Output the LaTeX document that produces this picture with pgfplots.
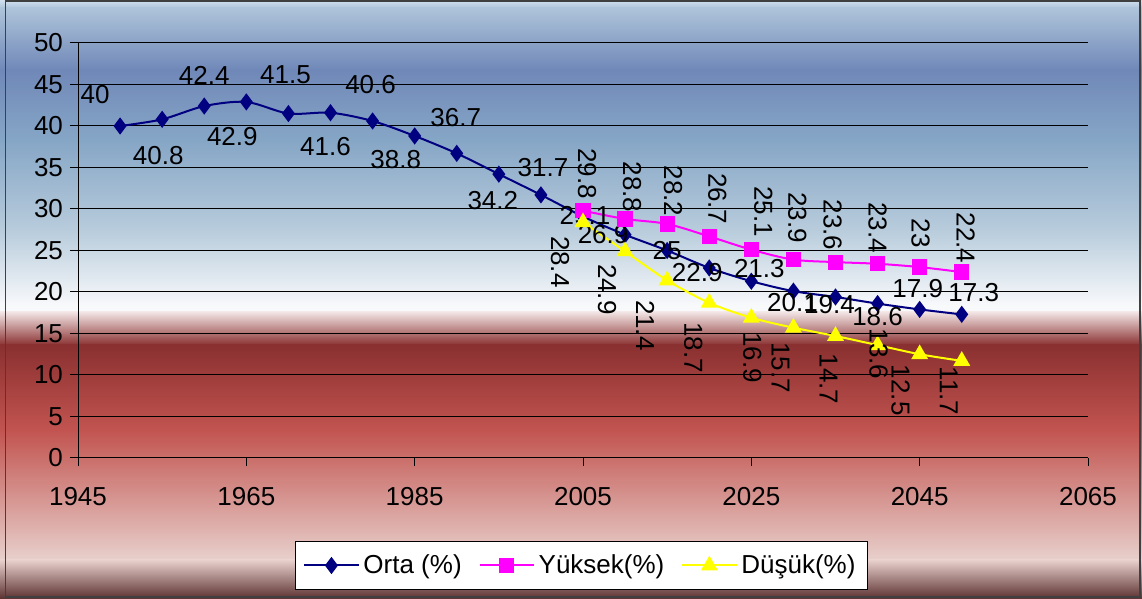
\documentclass[border=0pt]{standalone}
\usepackage{pgfplots}
\pgfplotsset{compat=1.18}
\usepackage{pgfplotstable}
\usepackage{fontspec}
\setmainfont{Liberation Sans}

\definecolor{ortac}{RGB}{0,0,128}
\definecolor{yukc}{RGB}{255,0,255}
\definecolor{dusc}{RGB}{255,255,0}

\pgfplotstableread{
x y lab dx dy
1950 40 40 -12.5 15.5
1955 40.8 40.8 -2 -18
1960 42.4 42.4 0 15.5
1965 42.9 42.9 -7 -17.5
1970 41.5 41.5 -1.5 19.5
1975 41.6 41.6 -2.5 -17
1980 40.6 40.6 -1 18
1985 38.8 38.8 -9.5 -12
1990 36.7 36.7 -0.5 18
1995 34.2 34.2 -3 -13
2000 31.7 31.7 1 13.5
2005 29.1 29.1 1 0.5
2010 26.9 26.9 -11 0
2015 25 25 0 0
2020 22.9 22.9 -6 -2.5
2025 21.3 21.3 4 6.5
2030 20.1 20.1 -0.5 -5.5
2035 19.4 19.4 -3 -4
2040 18.6 18.6 0 -6.5
2045 17.9 17.9 -1 10.5
2050 17.3 17.3 6 11
}\orta

\pgfplotstableread{
x y lab dx dy
2005 29.8 29.8 2 18.5
2010 28.8 28.8 3.5 16
2015 28.2 28.2 3 16.5
2020 26.7 26.7 4 19
2025 25.1 25.1 6 19
2030 23.9 23.9 2 21
2035 23.6 23.6 -1.5 18.5
2040 23.4 23.4 0 18
2045 23 23 0.5 17
2050 22.4 22.4 2 17
}\yuksek

\pgfplotstableread{
x y lab dx dy
2005 28.4 28.4 -11.5 -20
2010 24.9 24.9 -9 -19
2015 21.4 21.4 -11 -22.5
2020 18.7 18.7 -8 -22.5
2025 16.9 16.9 0.5 -20
2030 15.7 15.7 -6.5 -20
2035 14.7 14.7 -3.5 -21.5
2040 13.6 13.6 0.5 -4.5
2045 12.5 12.5 -9.5 -18
2050 11.7 11.7 -6.5 -15
}\dusuk

\newcommand{\bgseg}[4]{\shade[top color=#3,bottom color=#4] (0,#2) rectangle (571pt,#1);}
\newcommand{\cf}{\fontsize{13}{15}\selectfont}

\begin{document}
\begin{tikzpicture}
\useasboundingbox (0,0) rectangle (571pt,299.5pt);
\definecolor{c0}{HTML}{D0E0EE}
\definecolor{c1}{HTML}{AEC4DA}
\definecolor{c2}{HTML}{7088B8}
\definecolor{c3}{HTML}{86A6C6}
\definecolor{c4}{HTML}{B8CCDC}
\definecolor{c5}{HTML}{F8F9FB}
\definecolor{c6}{HTML}{F2E4E4}
\definecolor{c7}{HTML}{8A3030}
\definecolor{c8}{HTML}{C25450}
\definecolor{c9}{HTML}{E8D0CC}
\definecolor{c10}{HTML}{5A3030}
\bgseg{299.5pt}{295.3pt}{c0}{c1}
\bgseg{295.5pt}{264.3pt}{c1}{c2}
\bgseg{264.5pt}{229.3pt}{c2}{c3}
\bgseg{229.5pt}{184.3pt}{c3}{c4}
\bgseg{184.5pt}{146.8pt}{c4}{c5}
\fill[c5] (0,143.3pt) rectangle (571pt,147pt);
\bgseg{143.5pt}{126.8pt}{c6}{c7}
\bgseg{127pt}{84.3pt}{c7}{c8}
\bgseg{84.5pt}{19.3pt}{c8}{c9}
\bgseg{19.5pt}{0pt}{c9}{c10}
\draw[black!75,line width=0.6pt] (2.75pt,1pt) rectangle (570pt,299pt);
\begin{axis}[
  at={(39pt,70.5pt)}, anchor=south west,
  scale only axis, width=505pt, height=207.5pt,
  xmin=1945, xmax=2065, ymin=0, ymax=50,
  xtick={1945,1965,...,2065}, ytick={0,5,...,50},
  axis x line=bottom, axis y line=left,
  axis line style={-,black,line width=0.5pt},
  ymajorgrids, major grid style={black,line width=0.5pt},
  tick align=outside, major tick length=4pt,
  tick style={black,line width=0.5pt},
  /pgf/number format/assume math mode=true,
  /pgf/number format/1000 sep={},
  x tick label style={font=\cf, yshift=-7pt},
  y tick label style={font=\cf},
  clip=false,
  legend style={at={(0.4985,-0.259)}, anchor=center, draw=black, fill=white,
    font=\cf, line width=0.5pt, inner ysep=4.5pt, inner xsep=4pt,
    /tikz/every even column/.append style={column sep=6.5pt}},
  legend columns=3,
  legend image code/.code={\draw[mark repeat=2,mark phase=2,#1] plot coordinates {(0pt,0pt)(13.5pt,0pt)(27pt,0pt)};},
  lbl/.style={nodes near coords, point meta=explicit symbolic,
    visualization depends on={\thisrow{dx}\as\dx},
    visualization depends on={\thisrow{dy}\as\dy},
    nodes near coords style={font=\cf, text=black, anchor=center, inner sep=0pt, xshift=\dx pt, yshift=\dy pt, #1}},
]
\addplot[ortac, line width=1pt, smooth, mark=diamond*, mark size=3.5pt, mark options={solid,fill=ortac}, lbl={}] table[x=x,y=y,meta=lab] {\orta};
\addlegendentry{Orta (\%)}
\addplot[yukc, line width=1pt, smooth, mark=square*, mark size=3.3pt, mark options={solid,fill=yukc}, lbl={rotate=-90}] table[x=x,y=y,meta=lab] {\yuksek};
\addlegendentry{Yüksek(\%)}
\addplot[dusc, line width=1pt, smooth, mark=triangle*, mark size=3.9pt, mark options={solid,fill=dusc}, lbl={rotate=-90}] table[x=x,y=y,meta=lab] {\dusuk};
\addlegendentry{Düşük(\%)}
\end{axis}
\end{tikzpicture}
\end{document}
